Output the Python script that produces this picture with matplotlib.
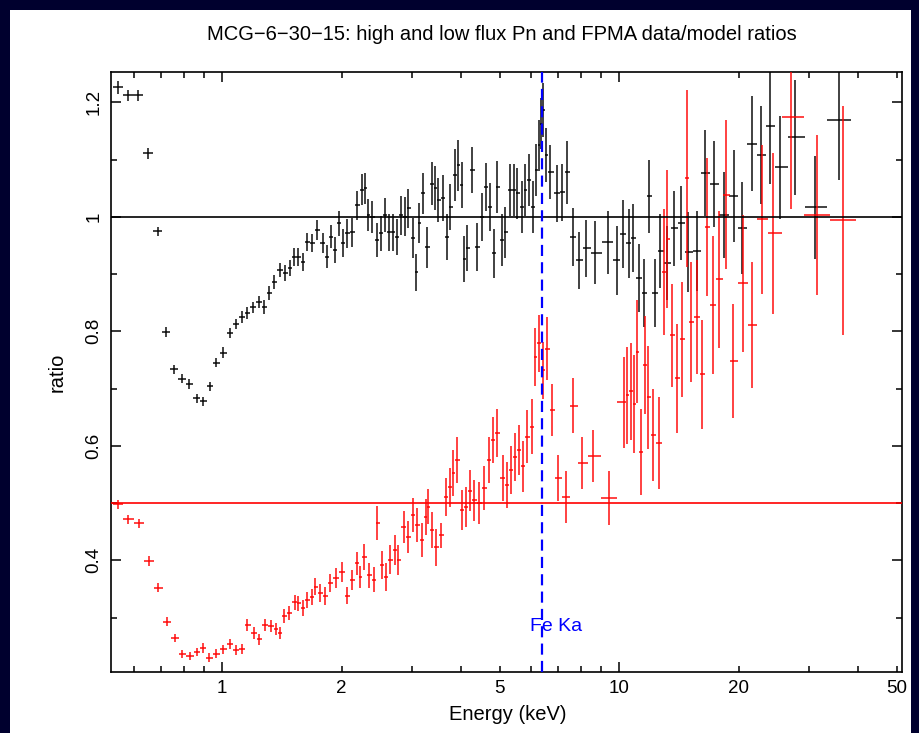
import numpy as np
import matplotlib
matplotlib.use("Agg")
import matplotlib.pyplot as plt
from matplotlib.patches import Rectangle
from matplotlib.ticker import FixedLocator, FuncFormatter, NullFormatter

plt.rcParams['font.family'] = ['Liberation Sans', 'DejaVu Sans']

# high flux (black), ratio ~1
hi_energy = [0.547, 0.580, 0.614, 0.651, 0.690, 0.723, 0.757, 0.793, 0.826, 0.865,
             0.896, 0.933, 0.966, 1.006, 1.047, 1.085, 1.123, 1.156, 1.197, 1.239,
             1.276, 1.313, 1.352, 1.400, 1.441, 1.483, 1.518, 1.554, 1.600, 1.637,
             1.686, 1.735, 1.797, 1.839, 1.882, 1.926, 1.971, 2.018, 2.065, 2.126,
             2.188, 2.253, 2.292, 2.332, 2.387, 2.457, 2.515, 2.574, 2.634, 2.696,
             2.760, 2.825, 2.891, 2.942, 3.028, 3.081, 3.135, 3.208, 3.284, 3.381,
             3.440, 3.501, 3.604, 3.689, 3.753, 3.863, 3.931, 4.010, 4.060, 4.141,
             4.264, 4.389, 4.518, 4.624, 4.733, 4.844, 4.929, 5.074, 5.163, 5.315,
             5.440, 5.536, 5.698, 5.798, 5.934, 6.073, 6.180, 6.288, 6.362, 6.436,
             6.549, 6.703, 6.982, 7.187, 7.396, 7.658, 7.930, 8.259, 8.700, 9.383,
             9.885, 10.23, 10.60, 10.85, 11.23, 11.56, 11.90, 12.32, 12.68, 13.21,
             13.76, 14.33, 14.92, 15.72, 16.47, 17.35, 18.39, 19.49, 20.41, 21.63,
             22.79, 24.02, 25.44, 27.75, 31.17, 35.83]
hi_ratio = [1.226, 1.212, 1.212, 1.111, 0.975, 0.799, 0.734, 0.717, 0.708, 0.683,
            0.678, 0.704, 0.745, 0.763, 0.797, 0.813, 0.825, 0.832, 0.842, 0.851,
            0.842, 0.867, 0.886, 0.907, 0.902, 0.910, 0.930, 0.930, 0.921, 0.956,
            0.954, 0.977, 0.954, 0.930, 0.965, 0.942, 0.989, 0.954, 0.971, 0.973,
            1.020, 1.047, 1.050, 1.003, 1.000, 0.960, 0.971, 1.003, 0.973, 0.973,
            0.965, 1.003, 1.000, 1.015, 0.963, 0.903, 0.989, 1.041, 0.947, 1.058,
            1.050, 1.029, 1.033, 0.965, 1.017, 1.073, 1.090, 1.055, 0.927, 0.945,
            1.082, 0.947, 1.000, 1.052, 1.017, 0.936, 1.052, 0.960, 0.973, 1.047,
            1.047, 1.041, 1.017, 1.047, 1.064, 1.017, 1.082, 1.125, 1.163, 1.186,
            1.108, 1.078, 1.041, 1.043, 1.078, 0.965, 0.924, 0.945, 0.937, 0.956,
            0.924, 0.970, 0.954, 0.963, 0.893, 0.867, 1.036, 0.867, 0.940, 0.919,
            0.980, 0.989, 0.938, 0.940, 1.076, 1.057, 1.003, 1.036, 0.980, 1.128,
            1.108, 1.158, 1.087, 1.139, 1.017, 1.170]
hi_err = [0.012, 0.010, 0.010, 0.010, 0.008, 0.008, 0.008, 0.008, 0.008, 0.008,
          0.008, 0.008, 0.008, 0.009, 0.009, 0.009, 0.010, 0.010, 0.010, 0.010,
          0.012, 0.012, 0.012, 0.012, 0.014, 0.014, 0.015, 0.015, 0.015, 0.016,
          0.016, 0.018, 0.018, 0.020, 0.020, 0.022, 0.022, 0.024, 0.025, 0.025,
          0.025, 0.027, 0.027, 0.028, 0.028, 0.030, 0.030, 0.030, 0.032, 0.032,
          0.032, 0.034, 0.034, 0.034, 0.035, 0.032, 0.035, 0.036, 0.036, 0.038,
          0.038, 0.038, 0.040, 0.040, 0.040, 0.045, 0.045, 0.040, 0.040, 0.040,
          0.040, 0.042, 0.042, 0.042, 0.042, 0.042, 0.045, 0.045, 0.045, 0.045,
          0.045, 0.045, 0.045, 0.045, 0.045, 0.045, 0.045, 0.045, 0.045, 0.047,
          0.047, 0.047, 0.050, 0.050, 0.055, 0.050, 0.050, 0.050, 0.055, 0.055,
          0.060, 0.060, 0.060, 0.060, 0.060, 0.060, 0.064, 0.060, 0.065, 0.065,
          0.065, 0.065, 0.070, 0.070, 0.075, 0.075, 0.075, 0.080, 0.080, 0.083,
          0.085, 0.100, 0.090, 0.100, 0.090, 0.105]

# low flux (red), ratio ~0.5
lo_energy = [0.547, 0.580, 0.618, 0.655, 0.690, 0.727, 0.761, 0.793, 0.831, 0.865,
             0.896, 0.927, 0.966, 1.006, 1.047, 1.085, 1.123, 1.156, 1.204, 1.239,
             1.283, 1.328, 1.368, 1.400, 1.433, 1.475, 1.527, 1.554, 1.600, 1.637,
             1.686, 1.715, 1.765, 1.817, 1.871, 1.937, 2.006, 2.065, 2.126, 2.188,
             2.227, 2.279, 2.346, 2.415, 2.457, 2.529, 2.588, 2.650, 2.728, 2.776,
             2.874, 2.942, 3.028, 3.099, 3.190, 3.265, 3.303, 3.381, 3.459, 3.562,
             3.668, 3.753, 3.818, 3.908, 4.023, 4.118, 4.214, 4.314, 4.441, 4.571,
             4.705, 4.816, 4.929, 5.104, 5.224, 5.346, 5.471, 5.600, 5.731, 5.865,
             6.038, 6.144, 6.288, 6.436, 6.587, 6.781, 7.022, 7.353, 7.658, 8.069,
             8.600, 9.436, 10.29, 10.47, 10.72, 10.91, 11.10, 11.36, 11.63, 11.83,
             12.18, 12.61, 12.98, 13.21, 13.60, 14.00, 14.41, 14.84, 15.18, 15.72,
             16.18, 16.66, 17.25, 17.86, 18.60, 19.37, 20.53, 21.63, 22.92, 24.43,
             27.11, 31.53, 36.66]
lo_ratio = [0.498, 0.472, 0.465, 0.399, 0.352, 0.293, 0.265, 0.237, 0.233, 0.240,
            0.247, 0.230, 0.237, 0.245, 0.254, 0.243, 0.245, 0.287, 0.273, 0.262,
            0.287, 0.285, 0.280, 0.273, 0.303, 0.308, 0.327, 0.325, 0.317, 0.331,
            0.336, 0.354, 0.343, 0.338, 0.360, 0.369, 0.380, 0.338, 0.366, 0.395,
            0.371, 0.406, 0.374, 0.366, 0.465, 0.392, 0.371, 0.401, 0.418, 0.400,
            0.459, 0.441, 0.479, 0.462, 0.436, 0.476, 0.494, 0.453, 0.423, 0.444,
            0.511, 0.528, 0.552, 0.575, 0.488, 0.493, 0.522, 0.505, 0.500, 0.526,
            0.575, 0.610, 0.622, 0.544, 0.532, 0.558, 0.581, 0.593, 0.564, 0.616,
            0.633, 0.755, 0.779, 0.732, 0.770, 0.663, 0.544, 0.511, 0.670, 0.570,
            0.582, 0.509, 0.676, 0.688, 0.695, 0.673, 0.764, 0.589, 0.741, 0.685,
            0.619, 0.605, 0.903, 0.961, 0.793, 0.718, 0.786, 1.067, 0.816, 0.825,
            0.725, 0.982, 0.846, 0.891, 1.039, 0.748, 0.884, 0.811, 0.996, 0.971,
            1.174, 1.003, 0.994]
lo_err = [0.008, 0.008, 0.008, 0.008, 0.008, 0.008, 0.007, 0.007, 0.007, 0.007,
          0.008, 0.008, 0.008, 0.008, 0.008, 0.009, 0.009, 0.010, 0.010, 0.010,
          0.010, 0.010, 0.011, 0.011, 0.012, 0.012, 0.013, 0.013, 0.014, 0.014,
          0.014, 0.015, 0.015, 0.016, 0.016, 0.017, 0.017, 0.015, 0.018, 0.020,
          0.020, 0.022, 0.022, 0.022, 0.030, 0.024, 0.024, 0.025, 0.026, 0.026,
          0.028, 0.028, 0.030, 0.030, 0.030, 0.031, 0.031, 0.032, 0.032, 0.022,
          0.033, 0.034, 0.040, 0.040, 0.035, 0.035, 0.036, 0.036, 0.036, 0.038,
          0.040, 0.040, 0.042, 0.040, 0.040, 0.042, 0.042, 0.044, 0.044, 0.046,
          0.048, 0.050, 0.050, 0.050, 0.055, 0.045, 0.040, 0.045, 0.048, 0.045,
          0.045, 0.047, 0.080, 0.085, 0.085, 0.085, 0.090, 0.075, 0.085, 0.090,
          0.080, 0.080, 0.110, 0.120, 0.090, 0.095, 0.100, 0.155, 0.105, 0.100,
          0.095, 0.120, 0.120, 0.120, 0.130, 0.100, 0.120, 0.110, 0.130, 0.140,
          0.160, 0.140, 0.200]

fe_ka = 6.4
hi_model = 1.0
lo_model = 0.5
x_labels = [1, 2, 5, 10, 20, 50]


def bin_halfwidths(e):
    # contiguous bins: edges at geometric midpoints of neighbouring channels
    e = np.asarray(e, dtype=float)
    edges = np.sqrt(e[1:] * e[:-1])
    lo = np.empty_like(e)
    hi = np.empty_like(e)
    lo[1:] = e[1:] - edges
    hi[:-1] = edges - e[:-1]
    lo[0] = e[0] - e[0] ** 2 / edges[0]
    hi[-1] = e[-1] ** 2 / edges[-1] - e[-1]
    return np.vstack([lo, hi])


def xlab(v, pos):
    return f'{v:g}' if any(abs(v - l) < 1e-6 for l in x_labels) else ''


W, H = 920, 733
fig = plt.figure(figsize=(W / 100, H / 100), dpi=100, facecolor='#00002e')
fig.patches.append(Rectangle((10 / W, 0), 901 / W, 1 - 10 / H,
                             transform=fig.transFigure, facecolor='white',
                             edgecolor='none', zorder=-10))

ax = fig.add_axes([111 / W, 1 - 672 / H, 791 / W, 600 / H])
ax.set_facecolor('none')
ax.set_xscale('log')
ax.set_xlim(0.525, 51.5)
ax.set_ylim(0.205, 1.253)

ax.errorbar(hi_energy, hi_ratio, yerr=hi_err, xerr=bin_halfwidths(hi_energy),
            fmt='none', ecolor='black', elinewidth=1.3, capsize=0, alpha=0.8, zorder=3)
ax.errorbar(lo_energy, lo_ratio, yerr=lo_err, xerr=bin_halfwidths(lo_energy),
            fmt='none', ecolor='#ff0000', elinewidth=1.3, capsize=0, alpha=0.8, zorder=3)
ax.axhline(hi_model, color='black', lw=1.2, zorder=4)
ax.axhline(lo_model, color='#ff0000', lw=1.2, zorder=4)
ax.axvline(fe_ka, color='#0000ff', lw=1.6, ls=(0, (5, 2.8)), zorder=5)
ax.text(5.97, 0.284, 'Fe Ka', color='#0000ff', fontsize=14, ha='left', va='center')

for s in ax.spines.values():
    s.set_linewidth(1.2)

ax.xaxis.set_major_locator(FixedLocator([1, 10]))
ax.xaxis.set_minor_locator(FixedLocator([0.6, 0.7, 0.8, 0.9, 2, 3, 4, 5, 6, 7, 8, 9,
                                         20, 30, 40, 50]))
ax.xaxis.set_major_formatter(FuncFormatter(xlab))
ax.xaxis.set_minor_formatter(FuncFormatter(xlab))

ax.yaxis.set_major_locator(FixedLocator([0.4, 0.6, 0.8, 1.0, 1.2]))
ax.yaxis.set_minor_locator(FixedLocator([0.3, 0.5, 0.7, 0.9, 1.1]))
ax.yaxis.set_major_formatter(FuncFormatter(lambda v, p: f'{v:g}'))
ax.yaxis.set_minor_formatter(NullFormatter())

ax.tick_params(which='both', direction='in', top=True, right=True, width=1.1,
               labelsize=13.5, colors='black')
ax.tick_params(which='major', length=7)
ax.tick_params(which='minor', length=4.5)
ax.tick_params(axis='x', which='both', pad=6)
ax.tick_params(axis='y', which='both', pad=6)
for t in ax.get_yticklabels():
    t.set_rotation(90)
    t.set_va('center')

fig.text(502 / W, 1 - 35 / H, 'MCG\u22126\u221230\u221215: high and low flux Pn and FPMA data/model ratios',
         ha='center', va='center', fontsize=14.5)
fig.text(508 / W, 1 - 715 / H, 'Energy (keV)', ha='center', va='center', fontsize=14.5)
fig.text(57 / W, 1 - 372 / H, 'ratio', ha='center', va='center', rotation=90, fontsize=14.5)

fig.savefig('out.png', dpi=100, facecolor=fig.get_facecolor())
